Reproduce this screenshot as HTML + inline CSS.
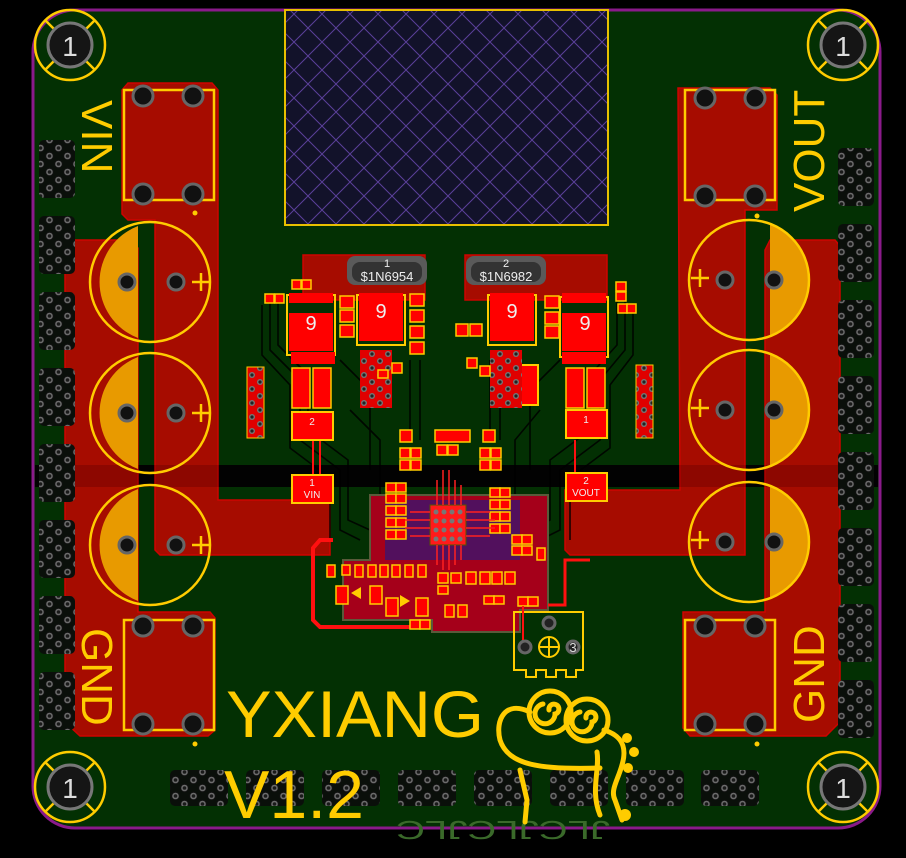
<!DOCTYPE html>
<html><head><meta charset="utf-8"><style>
html,body{margin:0;padding:0;background:#000;}
svg{display:block}
text{font-family:"Liberation Sans",sans-serif}
</style></head><body>
<svg width="906" height="858" viewBox="0 0 906 858" xmlns="http://www.w3.org/2000/svg">
<defs>
<pattern id="via" width="18" height="16" patternUnits="userSpaceOnUse">
<rect width="18" height="16" fill="#0a0f0a"/>
<circle cx="4.5" cy="4" r="4.2" fill="#111"/><circle cx="4.5" cy="4" r="3.3" fill="#6c6c6c"/><circle cx="4.5" cy="4" r="1.8" fill="#1a1a1a"/>
<circle cx="13.5" cy="12" r="4.2" fill="#111"/><circle cx="13.5" cy="12" r="3.3" fill="#6c6c6c"/><circle cx="13.5" cy="12" r="1.8" fill="#1a1a1a"/>
</pattern>
<pattern id="viar" width="16" height="14" patternUnits="userSpaceOnUse">
<rect width="16" height="14" fill="#e00000"/>
<circle cx="4" cy="4" r="3" fill="#777"/><circle cx="4" cy="4" r="1.6" fill="#222"/>
<circle cx="12" cy="11" r="3" fill="#777"/><circle cx="12" cy="11" r="1.6" fill="#222"/>
</pattern>
<pattern id="hatch" width="28" height="28" patternUnits="userSpaceOnUse">
<rect width="28" height="28" fill="#12122a"/>
<path d="M0 0L28 28M28 0L0 28" stroke="#5a3f9a" stroke-width="1"/>
</pattern>
</defs>
<rect width="906" height="858" fill="#000"/>
<rect x="33" y="10" width="847" height="818" rx="42" fill="#033003" stroke="#8a1a8a" stroke-width="3"/>
<rect x="35" y="465" width="843" height="22" fill="#030303"/>

<rect x="285" y="10" width="323" height="215" fill="url(#hatch)" stroke="#e8c000" stroke-width="2"/>

<g fill="#b40a00" stroke="#e00000" stroke-width="1.5" opacity="0.92">
<path d="M128 83H212L218 90V500H330V555H160L155 550V220H128L122 214V90Z"/>
<path d="M70 240H130L138 248V612H210L215 618V730L208 736H80L65 722V245Z"/>
<path d="M678 88H770L777 95V210L745 210V555H570L565 550V490H680Z"/>
<path d="M770 240H835L840 246V722L826 736H690L683 728V612H765V250Z"/>
<path d="M303 255H425V300H303Z"/>
<path d="M465 255H607V300H465Z"/>
</g>
<rect x="35" y="465" width="843" height="22" fill="#000" opacity="0.15"/>

<!-- dark traces -->
<g fill="none" stroke="#000" stroke-width="1.6" opacity="0.85">
<path d="M270 300V350L300 380V440L340 470V530L360 540"/>
<path d="M262 305V355L290 385V448L330 478V540"/>
<path d="M278 300V345L308 375V430L348 460V520L370 530"/>
<path d="M350 410L380 440V500L395 505"/>
<path d="M340 360L370 390V470"/>
<path d="M410 360V440"/><path d="M420 360V440"/>
<path d="M500 360V440"/><path d="M490 360V440"/>
<path d="M625 300V350L600 380V440L560 470V530L540 540"/>
<path d="M633 305V355L610 385V448L570 478V540"/>
<path d="M617 300V345L590 375V430L550 460V520L530 530"/>
<path d="M540 410L515 440V500L505 505"/>
<path d="M560 360L530 390V470"/>
</g>

<g fill="none" stroke="#ffcc00" stroke-width="2.5">
<rect x="124" y="90" width="90" height="110"/>
<rect x="124" y="620" width="90" height="110"/>
<rect x="685" y="90" width="90" height="110"/>
<rect x="685" y="620" width="90" height="110"/>
</g>
<g fill="#111" stroke="#666" stroke-width="3">
<circle cx="143" cy="96" r="10"/><circle cx="193" cy="96" r="10"/><circle cx="143" cy="194" r="10"/><circle cx="193" cy="194" r="10"/>
<circle cx="143" cy="626" r="10"/><circle cx="193" cy="626" r="10"/><circle cx="143" cy="724" r="10"/><circle cx="193" cy="724" r="10"/>
<circle cx="705" cy="98" r="10"/><circle cx="755" cy="98" r="10"/><circle cx="705" cy="196" r="10"/><circle cx="755" cy="196" r="10"/>
<circle cx="705" cy="626" r="10"/><circle cx="755" cy="626" r="10"/><circle cx="705" cy="724" r="10"/><circle cx="755" cy="724" r="10"/>
</g>
<g fill="#ffcc00"><circle cx="195" cy="213" r="2.5"/><circle cx="195" cy="744" r="2.5"/><circle cx="757" cy="216" r="2.5"/><circle cx="757" cy="744" r="2.5"/></g>

<g>
<path d="M138 226A60 60 0 0 0 138 338Z" fill="#e89a00"/>
<path d="M138 357A60 60 0 0 0 138 469Z" fill="#e89a00"/>
<path d="M138 489A60 60 0 0 0 138 601Z" fill="#e89a00"/>
<path d="M770 224A60 60 0 0 1 770 336Z" fill="#e89a00"/>
<path d="M770 354A60 60 0 0 1 770 466Z" fill="#e89a00"/>
<path d="M770 486A60 60 0 0 1 770 598Z" fill="#e89a00"/>
<g fill="none" stroke="#ffcc00" stroke-width="2.5">
<circle cx="150" cy="282" r="60"/><circle cx="150" cy="413" r="60"/><circle cx="150" cy="545" r="60"/>
<circle cx="749" cy="280" r="60"/><circle cx="749" cy="410" r="60"/><circle cx="749" cy="542" r="60"/>
<path d="M192 282h18M201 273v18M192 413h18M201 404v18M192 545h18M201 536v18"/>
<path d="M691 278h18M700 269v18M691 408h18M700 399v18M691 540h18M700 531v18"/>
</g>
<g fill="#111" stroke="#666" stroke-width="3">
<circle cx="127" cy="282" r="8"/><circle cx="176" cy="282" r="8"/><circle cx="127" cy="413" r="8"/><circle cx="176" cy="413" r="8"/><circle cx="127" cy="545" r="8"/><circle cx="176" cy="545" r="8"/>
<circle cx="725" cy="280" r="8"/><circle cx="774" cy="280" r="8"/><circle cx="725" cy="410" r="8"/><circle cx="774" cy="410" r="8"/><circle cx="725" cy="542" r="8"/><circle cx="774" cy="542" r="8"/>
</g>
</g>

<g fill="url(#via)">
<rect x="39" y="140" width="36" height="58" rx="5"/><rect x="39" y="216" width="36" height="58" rx="5"/><rect x="39" y="292" width="36" height="58" rx="5"/><rect x="39" y="368" width="36" height="58" rx="5"/><rect x="39" y="444" width="36" height="58" rx="5"/><rect x="39" y="520" width="36" height="58" rx="5"/><rect x="39" y="596" width="36" height="58" rx="5"/><rect x="39" y="672" width="36" height="58" rx="5"/>
<rect x="838" y="148" width="36" height="58" rx="5"/><rect x="838" y="224" width="36" height="58" rx="5"/><rect x="838" y="300" width="36" height="58" rx="5"/><rect x="838" y="376" width="36" height="58" rx="5"/><rect x="838" y="452" width="36" height="58" rx="5"/><rect x="838" y="528" width="36" height="58" rx="5"/><rect x="838" y="604" width="36" height="58" rx="5"/><rect x="838" y="680" width="36" height="58" rx="5"/>
<rect x="170" y="770" width="58" height="36" rx="5"/><rect x="246" y="770" width="58" height="36" rx="5"/><rect x="322" y="770" width="58" height="36" rx="5"/><rect x="398" y="770" width="58" height="36" rx="5"/><rect x="474" y="770" width="58" height="36" rx="5"/><rect x="550" y="770" width="58" height="36" rx="5"/><rect x="626" y="770" width="58" height="36" rx="5"/><rect x="701" y="770" width="58" height="36" rx="5"/>
</g>

<g>
<g id="mh">
<circle cx="70" cy="45" r="35" fill="none" stroke="#ffcc00" stroke-width="2.5"/>
<path d="M45 20L55 30M95 20L85 30M45 70L55 60M95 70L85 60" stroke="#ffcc00" stroke-width="2.5"/>
<circle cx="70" cy="45" r="22" fill="#151515" stroke="#777" stroke-width="3"/>
<text x="70" y="56" font-size="28" fill="#ddd" text-anchor="middle">1</text>
</g>
<use href="#mh" transform="translate(773,0)"/>
<use href="#mh" transform="translate(0,742)"/>
<use href="#mh" transform="translate(773,742)"/>
</g>

<path d="M343 560L370 560V495H548V570H548V610H520V632H432V620H343Z" fill="#a5001a" stroke="#5a5a3a" stroke-width="2"/>
<path d="M385 500H520V560H385Z" fill="#1a1a8a" opacity="0.6"/>
<path d="M333 540H320L313 548V620L320 627H420" fill="none" stroke="#ff1010" stroke-width="4"/>
<path d="M548 605H565V560H590" fill="none" stroke="#ff1010" stroke-width="3"/>
<path d="M320 440V475M313 440V475M575 440V475" stroke="#ff1010" stroke-width="2"/>

<rect x="347" y="256" width="80" height="29" rx="8" fill="#5a5a5a"/>
<rect x="352" y="262" width="70" height="20" rx="8" fill="#333"/>
<text x="387" y="267" font-size="11" fill="#eee" text-anchor="middle">1</text>
<text x="387" y="281" font-size="13" fill="#eee" text-anchor="middle">$1N6954</text>
<rect x="466" y="256" width="80" height="29" rx="8" fill="#5a5a5a"/>
<rect x="471" y="262" width="70" height="20" rx="8" fill="#333"/>
<text x="506" y="267" font-size="11" fill="#eee" text-anchor="middle">2</text>
<text x="506" y="281" font-size="13" fill="#eee" text-anchor="middle">$1N6982</text>

<g fill="#ff0000" stroke="#ffcc00" stroke-width="2">
<rect x="287" y="295" width="48" height="60" fill="none"/>
<rect x="357" y="295" width="48" height="50" fill="none"/>
<rect x="488" y="295" width="48" height="50" fill="none"/>
<rect x="560" y="297" width="48" height="60" fill="none"/>
</g>
<g fill="#ff0000">
<rect x="289" y="313" width="44" height="38"/><rect x="359" y="303" width="44" height="38"/><rect x="490" y="303" width="44" height="38"/><rect x="562" y="313" width="44" height="38"/>
<rect x="289" y="293" width="44" height="10"/><rect x="359" y="293" width="44" height="10"/><rect x="490" y="293" width="44" height="10"/><rect x="562" y="293" width="44" height="10"/>
<rect x="291" y="352" width="44" height="12"/><rect x="562" y="352" width="44" height="12"/>
<rect x="292" y="368" width="18" height="40" stroke="#ffcc00" stroke-width="1.5"/><rect x="313" y="368" width="18" height="40" stroke="#ffcc00" stroke-width="1.5"/>
<rect x="566" y="368" width="18" height="40" stroke="#ffcc00" stroke-width="1.5"/><rect x="587" y="368" width="18" height="40" stroke="#ffcc00" stroke-width="1.5"/>
<rect x="292" y="412" width="41" height="28" stroke="#ffcc00" stroke-width="2"/>
<rect x="566" y="410" width="41" height="28" stroke="#ffcc00" stroke-width="2"/>
<rect x="292" y="475" width="41" height="28" stroke="#ffcc00" stroke-width="2"/>
<rect x="566" y="473" width="41" height="28" stroke="#ffcc00" stroke-width="2"/>
<rect x="520" y="365" width="18" height="40" stroke="#ffcc00" stroke-width="2"/>
</g>
<g fill="#eee" font-size="20" text-anchor="middle">
<text x="311" y="330">9</text><text x="381" y="318">9</text><text x="512" y="318">9</text><text x="585" y="330">9</text>
</g>
<g fill="#eee" font-size="10" text-anchor="middle">
<text x="312" y="425">2</text><text x="586" y="423">1</text>
<text x="312" y="486">1</text><text x="312" y="498">VIN</text>
<text x="586" y="484">2</text><text x="586" y="496">VOUT</text>
</g>
<g fill="url(#viar)">
<rect x="360" y="350" width="32" height="58"/><rect x="490" y="350" width="32" height="58"/>
<rect x="247" y="367" width="17" height="71" stroke="#ffcc00"/><rect x="636" y="365" width="17" height="73" stroke="#ffcc00"/>
</g>

<g fill="#ff0000" stroke="#ffcc00" stroke-width="1.5">
<rect x="265" y="294" width="9" height="9"/><rect x="275" y="294" width="9" height="9"/>
<rect x="292" y="280" width="9" height="9"/><rect x="302" y="280" width="9" height="9"/>
<rect x="340" y="296" width="14" height="12"/><rect x="340" y="310" width="14" height="12"/><rect x="340" y="325" width="14" height="12"/>
<rect x="410" y="294" width="14" height="12"/><rect x="410" y="310" width="14" height="12"/><rect x="410" y="326" width="14" height="12"/><rect x="410" y="342" width="14" height="12"/>
<rect x="456" y="324" width="12" height="12"/><rect x="470" y="324" width="12" height="12"/>
<rect x="467" y="358" width="10" height="10"/><rect x="480" y="366" width="10" height="10"/>
<rect x="545" y="296" width="14" height="12"/><rect x="545" y="312" width="14" height="12"/><rect x="545" y="326" width="14" height="12"/>
<rect x="616" y="282" width="10" height="9"/><rect x="616" y="292" width="10" height="9"/><rect x="618" y="304" width="9" height="9"/><rect x="627" y="304" width="9" height="9"/>
<rect x="378" y="370" width="10" height="8"/><rect x="392" y="363" width="10" height="10"/>
<rect x="400" y="430" width="12" height="12"/><rect x="483" y="430" width="12" height="12"/><rect x="435" y="430" width="35" height="12"/>
<rect x="400" y="448" width="10" height="10"/><rect x="411" y="448" width="10" height="10"/><rect x="437" y="445" width="10" height="10"/><rect x="448" y="445" width="10" height="10"/><rect x="480" y="448" width="10" height="10"/><rect x="491" y="448" width="10" height="10"/>
<rect x="400" y="460" width="10" height="10"/><rect x="411" y="460" width="10" height="10"/><rect x="480" y="460" width="10" height="10"/><rect x="491" y="460" width="10" height="10"/>
<rect x="386" y="483" width="10" height="9"/><rect x="396" y="483" width="10" height="9"/>
<rect x="386" y="494" width="10" height="9"/><rect x="396" y="494" width="10" height="9"/>
<rect x="386" y="506" width="10" height="9"/><rect x="396" y="506" width="10" height="9"/>
<rect x="386" y="518" width="10" height="9"/><rect x="396" y="518" width="10" height="9"/>
<rect x="386" y="530" width="10" height="9"/><rect x="396" y="530" width="10" height="9"/>
<rect x="490" y="488" width="10" height="9"/><rect x="500" y="488" width="10" height="9"/>
<rect x="490" y="500" width="10" height="9"/><rect x="500" y="500" width="10" height="9"/>
<rect x="490" y="512" width="10" height="9"/><rect x="500" y="512" width="10" height="9"/>
<rect x="490" y="524" width="10" height="9"/><rect x="500" y="524" width="10" height="9"/>
<rect x="512" y="535" width="10" height="9"/><rect x="522" y="535" width="10" height="9"/><rect x="512" y="546" width="10" height="9"/><rect x="522" y="546" width="10" height="9"/><rect x="537" y="548" width="8" height="12"/>
<rect x="327" y="565" width="8" height="12"/>
<rect x="342" y="565" width="8" height="10"/><rect x="355" y="565" width="8" height="12"/><rect x="368" y="565" width="8" height="12"/><rect x="380" y="565" width="8" height="12"/><rect x="392" y="565" width="8" height="12"/><rect x="405" y="565" width="8" height="12"/><rect x="418" y="565" width="8" height="12"/>
<rect x="438" y="573" width="10" height="10"/><rect x="451" y="573" width="10" height="10"/><rect x="466" y="572" width="10" height="12"/><rect x="480" y="572" width="10" height="12"/><rect x="492" y="572" width="10" height="12"/><rect x="505" y="572" width="10" height="12"/>
<rect x="438" y="586" width="10" height="8"/><rect x="484" y="596" width="10" height="8"/><rect x="494" y="596" width="10" height="8"/>
<rect x="445" y="605" width="9" height="12"/><rect x="458" y="605" width="9" height="12"/>
<rect x="410" y="620" width="10" height="9"/><rect x="420" y="620" width="10" height="9"/><rect x="518" y="597" width="10" height="9"/><rect x="528" y="597" width="10" height="9"/>
<rect x="336" y="586" width="12" height="18"/><rect x="370" y="586" width="12" height="18"/><rect x="386" y="598" width="12" height="18"/><rect x="416" y="598" width="12" height="18"/>
</g>
<path d="M351 593l10 -6v12z" fill="#ffcc00"/><path d="M410 601l-10 -6v12z" fill="#ffcc00"/>
<rect x="430" y="505" width="36" height="40" fill="#ff1a1a" stroke="#550" stroke-width="1"/>
<g fill="#777"><circle cx="436" cy="512" r="2.5"/><circle cx="444" cy="512" r="2.5"/><circle cx="452" cy="512" r="2.5"/><circle cx="460" cy="512" r="2.5"/><circle cx="436" cy="521" r="2.5"/><circle cx="444" cy="521" r="2.5"/><circle cx="452" cy="521" r="2.5"/><circle cx="460" cy="521" r="2.5"/><circle cx="436" cy="530" r="2.5"/><circle cx="444" cy="530" r="2.5"/><circle cx="452" cy="530" r="2.5"/><circle cx="460" cy="530" r="2.5"/><circle cx="436" cy="539" r="2.5"/><circle cx="444" cy="539" r="2.5"/><circle cx="452" cy="539" r="2.5"/><circle cx="460" cy="539" r="2.5"/></g>
<g stroke="#ff2020" stroke-width="1.5" fill="none">
<path d="M437 505V480M443 505V470M449 505V470M455 505V480M461 505V485M437 545V565M443 545V570M449 545V570M455 545V565M461 545V560M430 512H410M430 520H405M430 528H405M430 536H410M466 512H490M466 520H495M466 528H495M466 536H490"/>
</g>

<path d="M514 612H583V670H576V677H566V670H556V677H546V670H536V677H526V670H514Z" fill="none" stroke="#ffcc00" stroke-width="2"/>
<g fill="#222" stroke="#666" stroke-width="3">
<circle cx="549" cy="623" r="6"/><circle cx="525" cy="647" r="6"/><circle cx="573" cy="647" r="6"/>
</g>
<circle cx="549" cy="647" r="10" fill="none" stroke="#ffcc00" stroke-width="2"/>
<path d="M539 647h20M549 637v20" stroke="#ffcc00" stroke-width="2"/>
<text x="573" y="652" font-size="13" fill="#ddd" text-anchor="middle">3</text>
<path d="M523 606V640" stroke="#ff1010" stroke-width="2"/>

<g fill="#ffcc00" font-size="44">
<text transform="translate(82,100) rotate(90)">VIN</text>
<text transform="translate(82,628) rotate(90)">GND</text>
<text transform="translate(824,212) rotate(-90)">VOUT</text>
<text transform="translate(824,723) rotate(-90)">GND</text>
</g>
<text x="226" y="737" font-size="66" fill="#ffcc00" textLength="258" lengthAdjust="spacingAndGlyphs">YXIANG</text>
<text x="224" y="818" font-size="68" fill="#ffcc00" textLength="140" lengthAdjust="spacingAndGlyphs">V1.2</text>
<text x="503" y="803" font-size="26" fill="#3a6a2a" transform="rotate(180 503 812)" text-anchor="middle" textLength="214" lengthAdjust="spacingAndGlyphs">JLCJLCJLC</text>

<g fill="none" stroke="#ffcc00" stroke-width="5" stroke-linecap="round">
<circle cx="550" cy="712" r="21"/><circle cx="587" cy="720" r="21"/>
<path d="M549 710a5 5 0 1 1 6 4a10 10 0 1 1 -12 -10"/>
<path d="M586 718a5 5 0 1 1 6 4a10 10 0 1 1 -12 -10"/>
<path d="M530 712C505 700 495 720 500 740C508 765 540 770 600 768"/>
<path d="M604 730C620 735 628 745 622 765C618 780 610 790 615 800L622 820"/>
<path d="M597 752C600 770 590 790 600 815"/>
<path d="M520 770L527 800L525 822"/>
</g>
<g fill="#ffcc00"><circle cx="627" cy="738" r="5"/><circle cx="634" cy="752" r="5"/><circle cx="628" cy="768" r="5"/><circle cx="625" cy="815" r="6"/></g>
</svg>
</body></html>
